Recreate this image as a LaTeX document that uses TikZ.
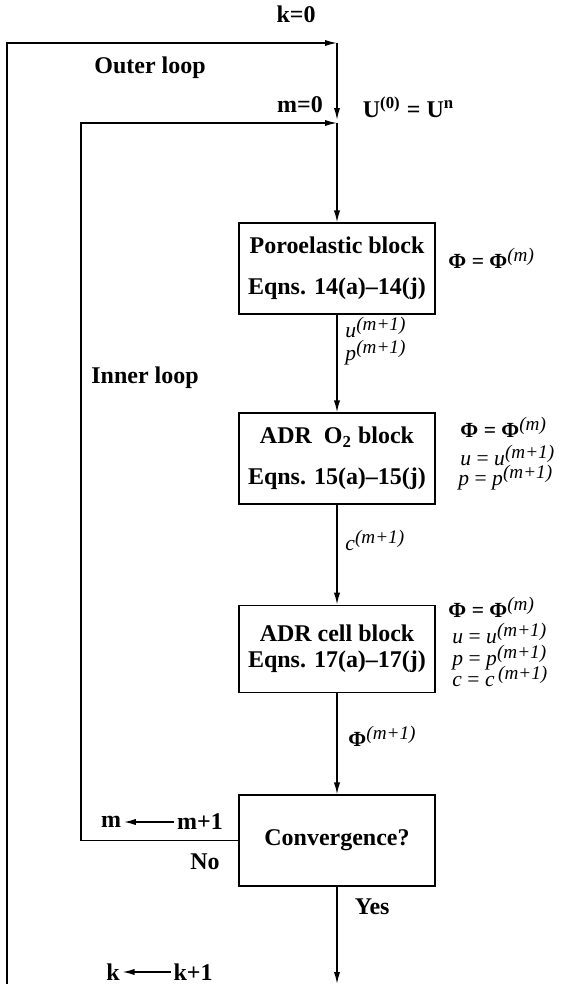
\documentclass[tikz,border=0pt]{standalone}
\usepackage{fontspec}
\setmainfont{Liberation Serif}
\usetikzlibrary{arrows.meta,positioning,calc}
\newcommand{\supit}[1]{\raisebox{2.8pt}{\footnotesize\normalfont\itshape #1}}

\begin{document}
\begin{tikzpicture}[x=1.466cm,y=-1.466cm,>={Latex[length=5pt,width=2.6pt]},
    blockbox/.style={draw,line width=0.6pt,minimum width=2.87cm,
      minimum height=1.33cm,align=center,font=\bfseries,inner sep=0pt},
    lbl/.style={font=\bfseries,inner sep=1pt},
    eqlbl/.style={anchor=base west,inner sep=0pt,font=\small},
    flow/.style={->,line width=0.6pt}]
  \useasboundingbox (0,0) rectangle (5.63,9.84);
  \coordinate (outerStart) at (0.07,9.84);
  \coordinate (outerTop) at (3.37,0.43);
  \coordinate (outerEnd) at (3.37,1.20);
  \coordinate (innerLeft) at (0.81,1.23);
  \coordinate (innerTop) at (3.37,1.23);
  \coordinate (exit) at (3.37,9.84);

  % blocks
  \node[blockbox] (poro) at (3.37,2.685)
    {Poroelastic block\\[5pt]Eqns. 14(a)–14(j)};
  \node[blockbox] (adrO) at (3.37,4.585)
    {ADR\enspace O\textsubscript{2} block\\[5pt]Eqns. 15(a)–15(j)};
  \node[blockbox,minimum height=1.28cm] (adrCell) at (3.37,6.49)
    {ADR cell block\\[-1pt]Eqns. 17(a)–17(j)};
  \node[blockbox] (conv) at (3.37,8.405) {Convergence?};

  % loops
  \draw[flow] (outerStart) |- (outerTop);
  \draw[flow] (outerTop) -- (outerEnd);
  \draw[flow] (conv.west) -| (innerLeft) -- (innerTop);
  \draw[flow] (innerTop) -- (poro);
  \draw[flow] (poro) -- (adrO);
  \draw[flow] (adrO) -- (adrCell);
  \draw[flow] (adrCell) -- (conv);
  \draw[flow] (conv) -- (exit);

  \node[lbl] (kZero) at (2.96,0.14) {k=0};
  \node[lbl] (outerLbl) at (1.50,0.68) {Outer loop};
  \node[lbl] (mZero) at (3.00,1.05) {m=0};
  \node[lbl,anchor=west] (uInit) at (3.60,1.07)
    {U\textsuperscript{(0)} = U\textsuperscript{n}};
  \node[lbl] (innerLbl) at (1.45,3.78) {Inner loop};

  % right hand data
  \node[eqlbl] (phiA) at (4.48,2.68) {\textbf{Φ = Φ}\supit{(m)}};
  \node[eqlbl] (uOut) at (3.45,3.37) {\textit{u}\supit{(m+1)}};
  \node[eqlbl] (pOut) at (3.45,3.60) {\textit{p}\supit{(m+1)}};
  \node[eqlbl] (phiB) at (4.60,4.37) {\textbf{Φ = Φ}\supit{(m)}};
  \node[eqlbl] (uB) at (4.60,4.65) {\textit{u} = \textit{u}\supit{(m+1)}};
  \node[eqlbl] (pB) at (4.58,4.85) {\textit{p} = \textit{p}\supit{(m+1)}};
  \node[eqlbl] (cOut) at (3.45,5.50) {\textit{c}\supit{(m+1)}};
  \node[eqlbl] (phiC) at (4.48,6.17) {\textbf{Φ = Φ}\supit{(m)}};
  \node[eqlbl] (uC) at (4.52,6.43) {\textit{u} = \textit{u}\supit{(m+1)}};
  \node[eqlbl] (pC) at (4.52,6.65) {\textit{p} = \textit{p}\supit{(m+1)}};
  \node[eqlbl] (cC) at (4.52,6.86) {\textit{c} = \textit{c}\,\supit{(m+1)}};
  \node[eqlbl] (phiOut) at (3.48,7.46) {\textbf{Φ}\supit{(m+1)}};

  % counters
  \node[lbl] (mOld) at (1.11,8.22) {m};
  \node[lbl] (mNew) at (2.00,8.22) {m+1};
  \draw[flow] (mNew) -- (mOld);
  \node[lbl] (noLbl) at (2.05,8.62) {No};
  \node[lbl,anchor=west] (yesLbl) at (3.52,9.07) {Yes};
  \node[lbl] (kOld) at (1.13,9.72) {k};
  \node[lbl] (kNew) at (1.93,9.72) {k+1};
  \draw[flow] (kNew) -- (kOld);
\end{tikzpicture}
\end{document}
